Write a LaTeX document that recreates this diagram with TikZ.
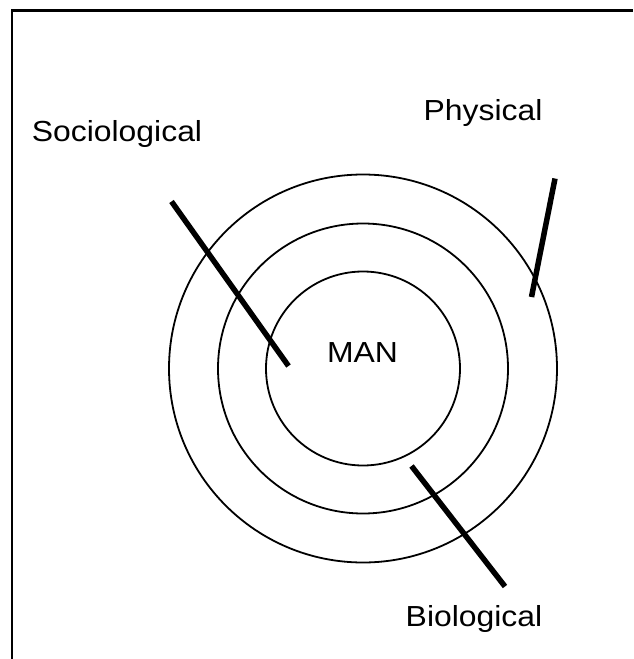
\documentclass[tikz,border=0pt]{standalone}
\usepackage{fontspec}
\setmainfont{Liberation Sans}
\begin{document}
\begin{tikzpicture}[x=1pt,y=-1pt,
  ring/.style={draw=black, line width=1.8pt},
  pointer/.style={draw=black, line width=5.5pt, line cap=butt},
  frameline/.style={draw=black, line width=2.2pt},
  lbl/.style={inner sep=0pt, anchor=base, font=\fontsize{29}{34}\selectfont}]
\useasboundingbox (0,0) rectangle (633,659);
\fill[white] (0,0) rectangle (633,659);
% frame (only left and top edges are visible)
\coordinate (fbl) at (12,659);
\coordinate (ftl) at (12,10.5);
\coordinate (ftr) at (633,10.5);
\draw[frameline] (fbl) -- (ftl) -- (ftr);
% rings
\coordinate (c) at (363,368.5);
\draw[ring] (c) circle[radius=97];
\draw[ring] (c) circle[radius=145];
\draw[ring] (c) circle[radius=194];
% labels
\node[lbl] (man) at (362.5,362) {\scalebox{1.1}[1]{MAN}};
\node[lbl] (soc) at (117,141.5) {\scalebox{1.1}[1]{Sociological}};
\node[lbl] (phy) at (483,120.5) {\scalebox{1.1}[1]{Physical}};
\node[lbl] (bio) at (474,626.5) {\scalebox{1.1}[1]{Biological}};
% pointer lines
\coordinate (s1) at (171.5,201.5);
\coordinate (s2) at (288.5,366);
\coordinate (p1) at (555,178.5);
\coordinate (p2) at (531.5,297);
\coordinate (b1) at (411.5,466);
\coordinate (b2) at (505,586.5);
\draw[pointer] (s1) -- (s2);
\draw[pointer] (p1) -- (p2);
\draw[pointer] (b1) -- (b2);
\end{tikzpicture}
\end{document}
